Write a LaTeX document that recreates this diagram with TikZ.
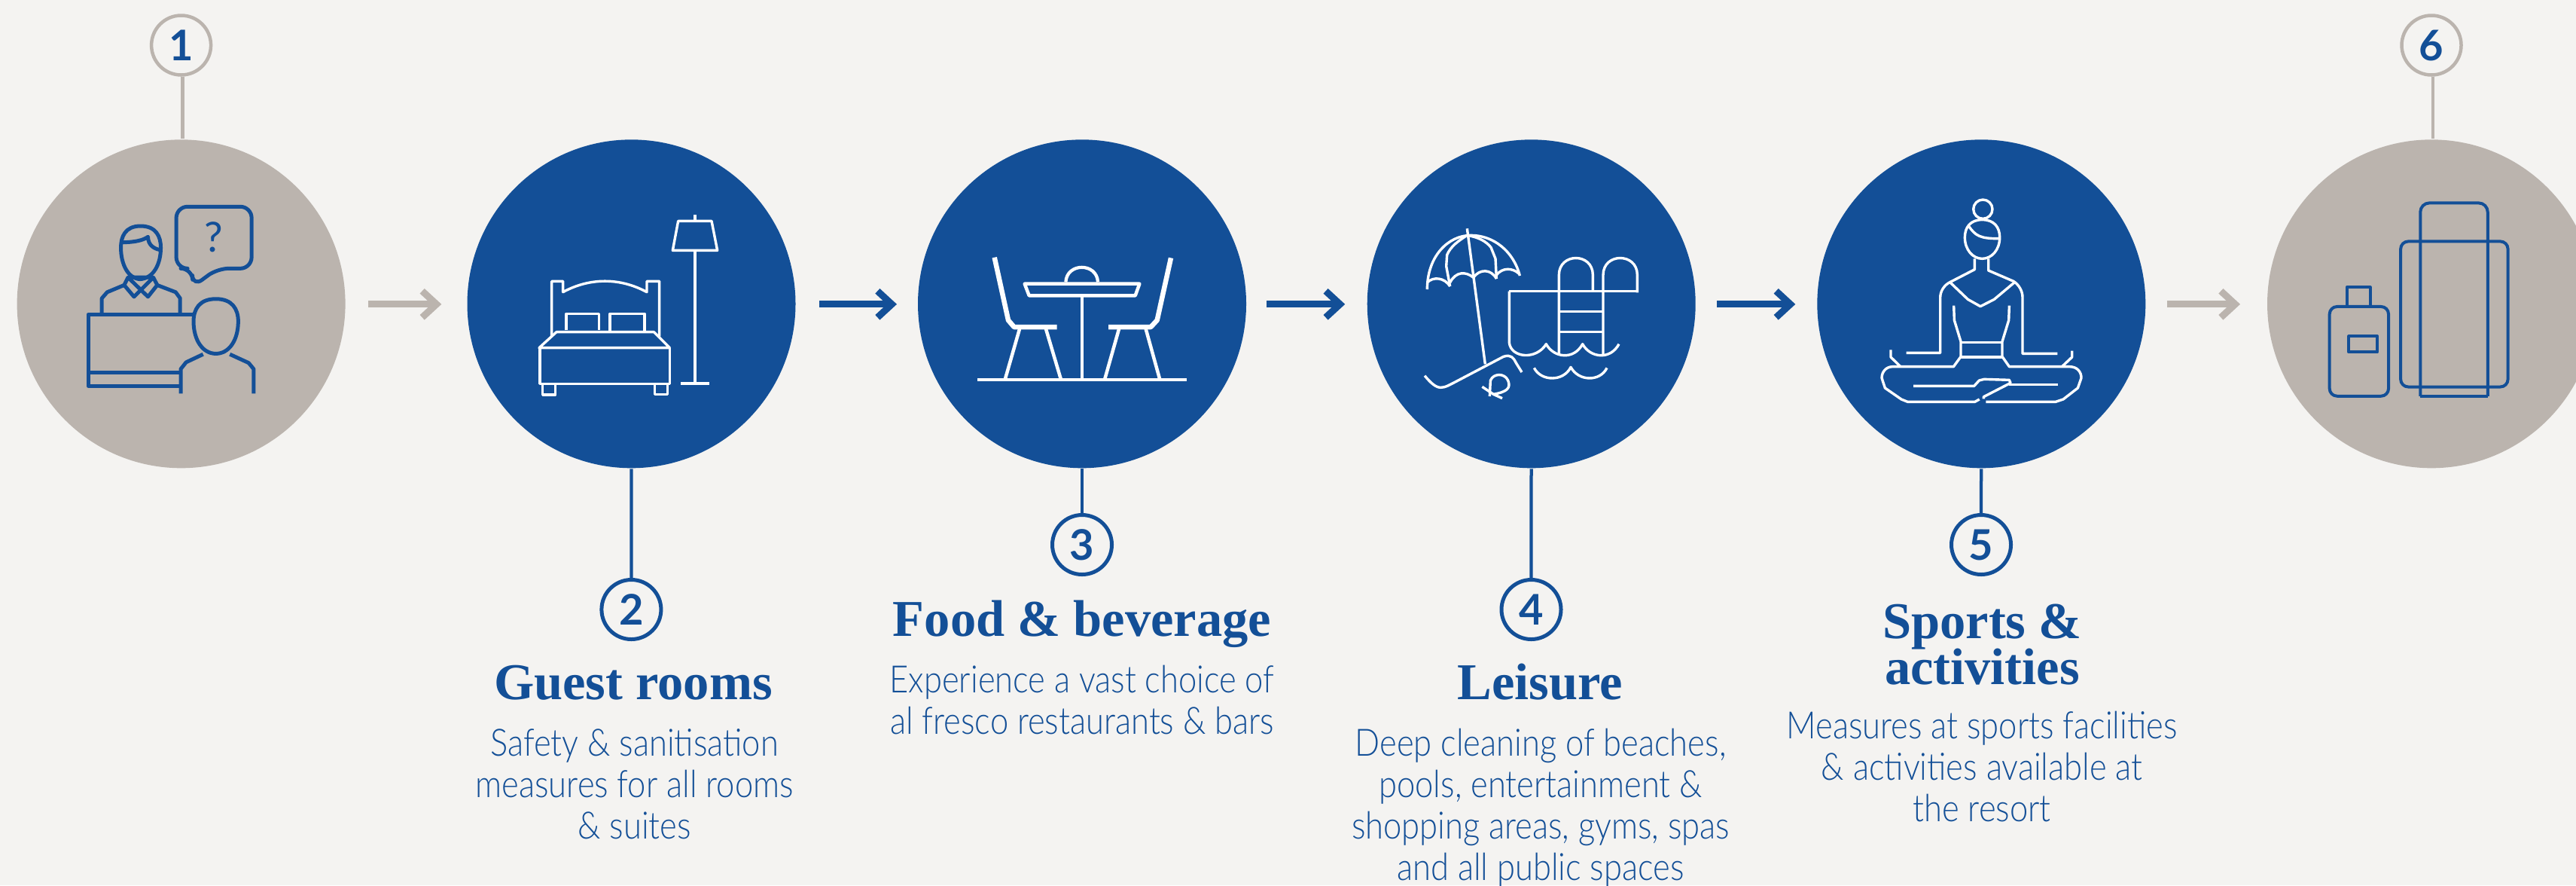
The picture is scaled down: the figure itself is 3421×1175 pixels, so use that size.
\documentclass[tikz,border=0pt]{standalone}
\usepackage{fontspec}
\usetikzlibrary{arrows.meta}
\setmainfont{Liberation Serif}
\newfontfamily\bodyf{Lato Light}[FakeStretch=0.87]
\newfontfamily\numf{Lato}[UprightFont=* Bold]
\newfontfamily\qf{Lato}
\definecolor{bg}{HTML}{F4F3F1}
\definecolor{navy}{HTML}{134F97}
\definecolor{stone}{HTML}{BBB4AE}
\newcommand{\firstrule}{\rule{0pt}{10pt}}
\tikzset{
  bigblue/.style={circle,fill=navy,draw=none,minimum size=87.2pt,inner sep=0pt},
  bigstone/.style={circle,fill=stone,draw=none,minimum size=87.2pt,inner sep=0pt},
  numblue/.style={circle,draw=navy,line width=1pt,minimum size=15.8pt,inner sep=0pt,text=navy,font=\numf\fontsize{11.2pt}{12pt}\selectfont},
  numstone/.style={numblue,draw=stone,line width=0.9pt},
  title/.style={anchor=north,align=center,inner sep=0pt,text=navy,font=\bfseries\fontsize{13.7pt}{11.9pt}\selectfont},
  body/.style={anchor=north,align=center,inner sep=0pt,text=navy,font=\bodyf\fontsize{10pt}{11pt}\selectfont},
  linkblue/.style={draw=navy,line width=0.85pt},
  linkstone/.style={draw=stone,line width=0.9pt},
  arrowblue/.style={draw=navy,line width=1.75pt,-{Straight Barb[length=3.8pt,width=7pt,line width=1.8pt]}},
  arrowstone/.style={arrowblue,draw=stone},
  iconw/.style={draw=white,line width=0.68pt,line join=round},
  iconb/.style={draw=navy,line width=1pt,line join=round}
}
\begin{document}
\begin{tikzpicture}[x=0.2pt,y=-0.2pt]
\useasboundingbox (0,0) rectangle (3421,1175);
\fill[bg] (0,0) rectangle (3421,1175);
% big circles
\node[bigstone] (c1) at (240.6,403.3) {};
\node[bigblue] (c2) at (838.5,403.3) {};
\node[bigblue] (c3) at (1437,403.3) {};
\node[bigblue] (c4) at (2033.7,403.3) {};
\node[bigblue] (c5) at (2631.3,403.3) {};
\node[bigstone] (c6) at (3229,403.3) {};
% numbers
\node[numstone] (n1) at (240.6,60) {1};
\node[numblue] (n2) at (838.4,809) {2};
\node[numblue] (n3) at (1437,723) {3};
\node[numblue] (n4) at (2033.5,809) {4};
\node[numblue] (n5) at (2631,723) {5};
\node[numstone] (n6) at (3229,60) {6};
% links
\draw[linkstone] ([xshift=0.36pt]n1.south) -- ([xshift=0.36pt]c1.north);
\draw[linkblue] (c2) -- (n2);
\draw[linkblue] (c3) -- (n3);
\draw[linkblue] (c4) -- (n4);
\draw[linkblue] (c5) -- (n5);
\draw[linkstone] ([xshift=0.36pt]n6.south) -- ([xshift=0.36pt]c6.north);
% arrows
\draw[arrowstone,shorten <=5.94pt,shorten >=6.64pt] ([yshift=-.1pt]c1.east) -- ([yshift=-.1pt]c2.west);
\draw[arrowblue,shorten <=6.1pt,shorten >=5.4pt] ([yshift=-.1pt]c2.east) -- ([yshift=-.1pt]c3.west);
\draw[arrowblue,shorten <=5.2pt,shorten >=5.7pt] ([yshift=-.1pt]c3.east) -- ([yshift=-.1pt]c4.west);
\draw[arrowblue,shorten <=5.46pt,shorten >=5.6pt] ([yshift=-.1pt]c4.east) -- ([yshift=-.1pt]c5.west);
\draw[arrowstone,shorten <=5.5pt,shorten >=7pt] ([yshift=-.1pt]c5.east) -- ([yshift=-.1pt]c6.west);
% titles
\node[title] (t2) at (841,877) {\firstrule Guest rooms};
\node[title] (t3) at (1437,793.7) {\firstrule Food \& beverage};
\node[title] (t4) at (2045.4,877) {\firstrule Leisure};
\node[title] (t5) at (2632.4,796.5) {\firstrule Sports \&\\[-1.2pt]activities};
% bodies
\node[body] (b2) at (842.6,952) {\firstrule Safety \& sanitisation\\measures for all rooms\\\& suites};
\node[body] (b3) at (1437,868.6) {\firstrule Experience a vast choice of\\al fresco restaurants \& bars};
\node[body] (b4) at (2046,952) {\firstrule Deep cleaning of beaches,\\pools, entertainment \&\\shopping areas, gyms, spas\\and all public spaces};
\node[body] (b5) at (2632,929) {\firstrule Measures at sports facilities\\\& activities available at\\the resort};
% icon 1
\begin{scope}[x=0.07908pt,y=-0.08163pt]
\draw[iconb,rounded corners=3pt] (592,672) -- (845,672) -- (845,873) -- (730,873) -- (648,932) -- (645,873) -- (592,873) -- cycle;
\node[text=navy,inner sep=0pt,font=\qf\fontsize{11pt}{12pt}\selectfont] (qm) at (718,772) {?};
\draw[iconb] (472,735) .. controls (420,735) and (406,770) .. (406,805) .. controls (406,860) and (430,905) .. (470,908) .. controls (515,905) and (540,860) .. (540,805) .. controls (540,770) and (525,735) .. (472,735) -- cycle;
\draw[iconb] (410,788) .. controls (450,788) and (480,782) .. (497,770) .. controls (497,795) and (515,808) .. (535,812);
\draw[iconb] (430,902) -- (515,902) -- (528,927) -- (497,965) -- (430,902) -- (417,927) -- (450,965) -- (515,902);
\draw[iconb] (417,927) -- (360,950) -- (342,970) -- (342,1023);
\draw[iconb] (528,927) -- (590,950) -- (605,970) -- (605,1023);
\draw[iconb] (650,1023) -- (296,1023) -- (296,1255) -- (605,1255);
\draw[iconb] (296,1212) -- (605,1212);
\draw[iconb] (725,972) .. controls (670,972) and (650,1005) .. (650,1045) .. controls (650,1105) and (680,1150) .. (725,1150) .. controls (770,1150) and (800,1105) .. (800,1045) .. controls (800,1005) and (780,972) .. (725,972) -- cycle;
\draw[iconb] (682,1152) -- (625,1178) -- (607,1200) -- (607,1280);
\draw[iconb] (772,1152) -- (835,1180) -- (852,1200) -- (852,1280);
\end{scope}
% icon 2
\begin{scope}[shift={(620,180)},x=0.06667pt,y=-0.06667pt]
\draw[iconw] (338,800) -- (338,580) -- (383,580) -- (383,623) .. controls (490,565) and (610,565) .. (717,623) -- (717,580) -- (767,580) -- (767,800);
\draw[iconw] (396,775) -- (396,709) -- (527,709) -- (527,775);
\draw[iconw] (570,780) -- (570,709) -- (708,709) -- (708,780);
\draw[iconw] (288,845) -- (357,782) -- (745,782) -- (808,845) -- cycle;
\draw[iconw] (291,845) -- (291,988) -- (808,988) -- (808,845);
\draw[iconw] (302,988) -- (302,1032) -- (353,1032) -- (353,988);
\draw[iconw] (748,988) -- (748,1030) -- (800,1030) -- (800,988);
\draw[iconw] (909,316) -- (909,340);
\draw[iconw] (842,340) -- (975,340) -- (998,457) -- (820,457) -- cycle;
\draw[iconw] (909,457) -- (909,988);
\draw[iconw] (852,987) -- (966,987);
\end{scope}
% icon 3
\begin{scope}[shift={(1210,180)},x=0.06667pt,y=-0.06667pt]
\draw[iconw,line width=0.9pt] (264,972) -- (1099,972);
\draw[iconw,line width=0.9pt] (452,590) -- (910,590) -- (893,637) -- (470,637) -- cycle;
\draw[iconw,line width=0.9pt] (681,637) -- (681,972);
\draw[iconw,line width=0.85pt] (616,583) .. controls (620,505) and (740,505) .. (744,583);
\draw[iconw,line width=1.3pt] (332,485) -- (387,735) -- (410,762) -- (581,762);
\draw[iconw,line width=1.3pt] (1035,487) -- (980,735) -- (955,762) -- (786,762);
\draw[iconw,line width=0.9pt] (432,770) -- (375,968);
\draw[iconw,line width=0.9pt] (537,770) -- (596,968);
\draw[iconw,line width=0.9pt] (828,770) -- (772,968);
\draw[iconw,line width=0.9pt] (935,770) -- (990,968);
\end{scope}
% icon 4
\begin{scope}[shift={(1810,180)},x=0.06667pt,y=-0.06667pt]
\draw[iconw] (415,370) -- (487,910);
\draw[iconw] (256,612) .. controls (256,480) and (340,397) .. (430,397) .. controls (520,397) and (600,460) .. (625,558);
\draw[iconw] (256,585) .. controls (280,560) and (325,565) .. (347,600);
\draw[iconw] (347,585) .. controls (370,540) and (410,540) .. (440,565);
\draw[iconw] (440,565) .. controls (465,530) and (510,530) .. (532,570);
\draw[iconw] (532,555) .. controls (555,525) and (595,525) .. (622,550);
\draw[iconw] (347,600) -- (332,520) -- (335,475) .. controls (350,440) and (380,420) .. (410,400);
\draw[iconw] (532,570) -- (528,490) -- (510,445) .. controls (490,420) and (460,405) .. (420,398);
\draw[iconw] (246,956) .. controls (270,985) and (290,1003) .. (310,1003) .. controls (330,1003) and (345,992) .. (360,985) -- (560,880) .. controls (590,870) and (600,885) .. (610,905) -- (633,942);
\draw[iconw] (505,1038) -- (508,975) .. controls (520,945) and (565,945) .. (578,975) .. controls (590,1005) and (575,1020) .. (520,1030);
\draw[iconw] (475,1000) -- (520,1030) -- (555,1046);
\draw[iconw] (583,620) -- (1095,620);
\draw[iconw] (583,620) -- (583,825) .. controls (590,885) and (690,895) .. (730,830) .. controls (760,885) and (840,895) .. (875,830) .. controls (905,885) and (985,895) .. (1020,830);
\draw[iconw] (781,870) -- (781,555) .. controls (781,465) and (916,465) .. (916,555) -- (916,615);
\draw[iconw] (957,870) -- (957,555) .. controls (957,465) and (1093,465) .. (1093,555) -- (1093,625);
\draw[iconw] (781,700) -- (957,700);
\draw[iconw] (781,782) -- (957,782);
\draw[iconw] (682,925) .. controls (710,980) and (800,980) .. (828,922) .. controls (860,980) and (945,980) .. (972,925);
\end{scope}
% icon 5
\begin{scope}[shift={(2400,180)},x=0.06667pt,y=-0.06667pt]
\draw[iconw] (700,293) circle [radius=2.53pt];
\draw[iconw] (697,335) .. controls (650,335) and (628,365) .. (628,405) .. controls (628,455) and (660,490) .. (697,490) .. controls (735,490) and (767,455) .. (767,405) .. controls (767,365) and (745,335) .. (697,335) -- cycle;
\draw[iconw] (642,358) .. controls (670,400) and (690,410) .. (762,410);
\draw[iconw] (667,490) -- (667,533) -- (570,583) .. controls (545,595) and (530,620) .. (530,645) -- (530,865) -- (395,865);
\draw[iconw] (722,490) -- (722,537) -- (822,580) .. controls (845,595) and (858,620) .. (858,645) -- (858,868) -- (997,868);
\draw[iconw] (570,585) -- (640,652) -- (690,680) -- (745,652) -- (825,585);
\draw[iconw] (584,677) -- (586,735) -- (612,820) -- (612,880) -- (583,920) -- (340,920) .. controls (315,920) and (297,940) .. (297,965) -- (310,1005) -- (375,1050) -- (400,1060) -- (668,1060) -- (686,1050);
\draw[iconw] (805,677) -- (803,735) -- (777,820) -- (777,880) -- (805,920) -- (1045,920) .. controls (1075,920) and (1092,940) .. (1092,965) -- (1078,1005) -- (1020,1050) -- (990,1060) -- (712,1060);
\draw[iconw] (612,823) -- (777,823);
\draw[iconw] (612,882) -- (777,882);
\draw[iconw] (333,853) -- (333,882) -- (370,918);
\draw[iconw] (1055,857) -- (1055,882) -- (1017,918);
\draw[iconw] (423,997) -- (665,997) -- (685,975) -- (705,970) -- (805,973) -- (810,985) -- (703,1040) -- (703,1048);
\draw[iconw] (805,991) -- (998,991);
\end{scope}
% icon 6
\begin{scope}[shift={(2860,0)},x=0.07156pt,y=-0.08163pt]
\draw[iconb,line width=0.8pt,rounded corners=2pt] (653,997) rectangle (872,1288);
\draw[iconb,line width=0.8pt] (717,997) -- (717,934) -- (804,934) -- (804,997);
\draw[iconb,line width=0.8pt] (725,1093) rectangle (830,1145);
\draw[iconb,line width=0.8pt,rounded corners=2pt] (917,785) rectangle (1315,1258);
\draw[iconb,line width=0.8pt,rounded corners=2.4pt] (990,1288) -- (990,660) -- (1240,660) -- (1240,1288);
\draw[iconb,line width=0.8pt] (990,1288) -- (1240,1288);
\end{scope}
\end{tikzpicture}
\end{document}
